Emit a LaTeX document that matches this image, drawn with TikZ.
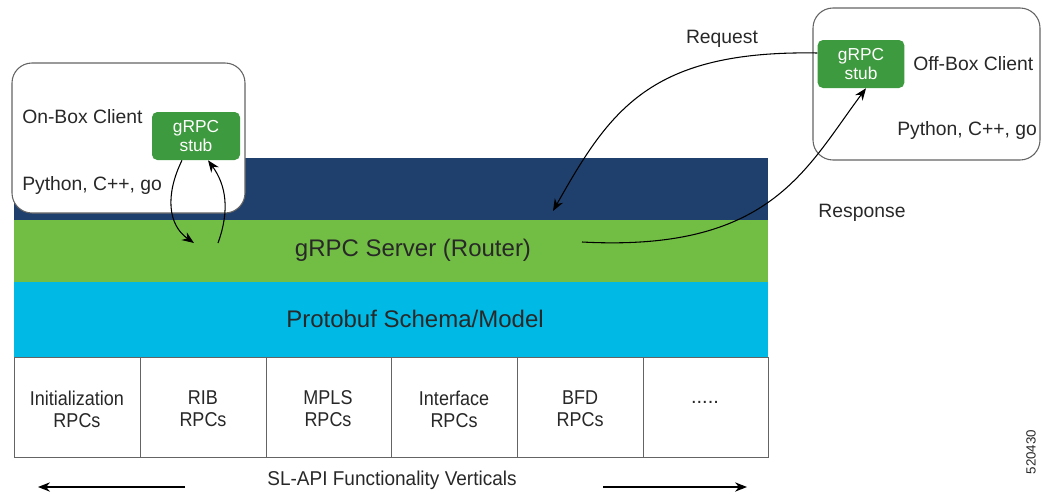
\documentclass[tikz,border=0pt]{standalone}
\usepackage{fontspec}
\setmainfont{Liberation Sans}
\usetikzlibrary{arrows.meta}
\definecolor{navyband}{RGB}{31,64,108}
\definecolor{greenband}{RGB}{114,190,68}
\definecolor{cyanband}{RGB}{0,185,228}
\definecolor{stubgreen}{RGB}{62,154,62}
\definecolor{edgegray}{RGB}{100,100,100}
\definecolor{txt}{RGB}{40,40,40}
\tikzset{
  clientbox/.style={draw=edgegray, line width=0.8pt, fill=white, rounded corners=15pt},
  stubbox/.style={fill=stubgreen, rounded corners=4pt, text=white, align=center, font=\fontsize{13}{14}\selectfont, inner sep=0pt},
  lbl/.style={text=txt, font=\fontsize{14.5}{16}\selectfont, inner sep=0pt},
  bandtxt/.style={text=txt, font=\fontsize{18}{20}\selectfont},
  celltxt/.style={text=txt, align=center, font=\fontsize{15}{16.5}\selectfont, inner sep=0pt},
  cellbox/.style={draw=edgegray, line width=0.6pt, fill=white},
  flow/.style={line width=0.8pt, -{Stealth[length=9pt,width=7pt]}},
}
\newcommand{\nar}[1]{\scalebox{0.9}[1]{#1}}
\begin{document}
\begin{tikzpicture}[x=0.75pt,y=-0.75pt]
\useasboundingbox (0,0) rectangle (1042,493);
% bands
\fill[navyband] (14,158) rectangle (768,220);
\fill[greenband] (14,220) rectangle (768,282);
\fill[cyanband] (14,282) rectangle (768,357);
\node[bandtxt] (server) at (413,250) {gRPC Server (Router)};
\node[bandtxt] (proto) at (415,319) {Protobuf Schema/Model};
% cells
\draw[cellbox] (14,357) rectangle (140,457);
\draw[cellbox] (140,357) rectangle (266,457);
\draw[cellbox] (266,357) rectangle (391,457);
\draw[cellbox] (391,357) rectangle (517,457);
\draw[cellbox] (517,357) rectangle (643,457);
\draw[cellbox] (643,357) rectangle (768,457);
\node[celltxt] (c1) at (77,409) {\nar{Initialization}\\\nar{RPCs}};
\node[celltxt] (c2) at (203,409) {\nar{RIB}\\\nar{RPCs}};
\node[celltxt] (c3) at (328,409) {\nar{MPLS}\\\nar{RPCs}};
\node[celltxt] (c4) at (454,409) {\nar{Interface}\\\nar{RPCs}};
\node[celltxt] (c5) at (580,409) {\nar{BFD}\\\nar{RPCs}};
\node[celltxt] (c6) at (705,402) {.....};
% bottom
\node[celltxt] (sl) at (392,480) {\scalebox{0.95}[1]{SL-API Functionality Verticals}};
\coordinate (la) at (185,487);
\coordinate (lb) at (38,487);
\coordinate (ra) at (603,487);
\coordinate (rb) at (747,487);
\draw[flow] (la) -- (lb);
\draw[flow] (ra) -- (rb);
\node[rotate=90, text=txt, font=\fontsize{10}{11}\selectfont] (id) at (1031,452) {520430};
% on-box client
\draw[clientbox] (12,63) rectangle (245,213);
\node[lbl, anchor=west] (onbox) at (22,117) {On-Box Client};
\node[lbl, anchor=west] (onlang) at (22,185) {Python, C++, go};
\node[stubbox, minimum width=66pt, minimum height=36pt] (onstub) at (196,136) {gRPC\\stub};
\coordinate (ondown) at (194,243);
\coordinate (onup) at (218,243);
\draw[flow] (onstub.south -| 182,0) .. controls (165,195) and (168,225) .. (ondown);
\draw[flow] (onup) .. controls (230,210) and (226,185) .. (onstub.south -| 208,0);
% off-box client
\draw[clientbox] (813,8) rectangle (1040,160);
\node[stubbox, minimum width=65pt, minimum height=36pt] (offstub) at (861,64) {gRPC\\stub};
\node[lbl, anchor=west] (offbox) at (913,64) {Off-Box Client};
\node[lbl, anchor=west] (offlang) at (897,130) {Python, C++, go};
\node[lbl] (req) at (722,39) {Request};
\node[lbl] (resp) at (862,213) {Response};
\coordinate (reqend) at (553,211);
\coordinate (respstart) at (582,242);
\draw[flow] (offstub.west |- 0,53) .. controls (650,50) and (610,110) .. (reqend);
\draw[flow] (respstart) .. controls (770,252) and (805,170) .. (offstub.south -| 866,0);
\end{tikzpicture}
\end{document}
